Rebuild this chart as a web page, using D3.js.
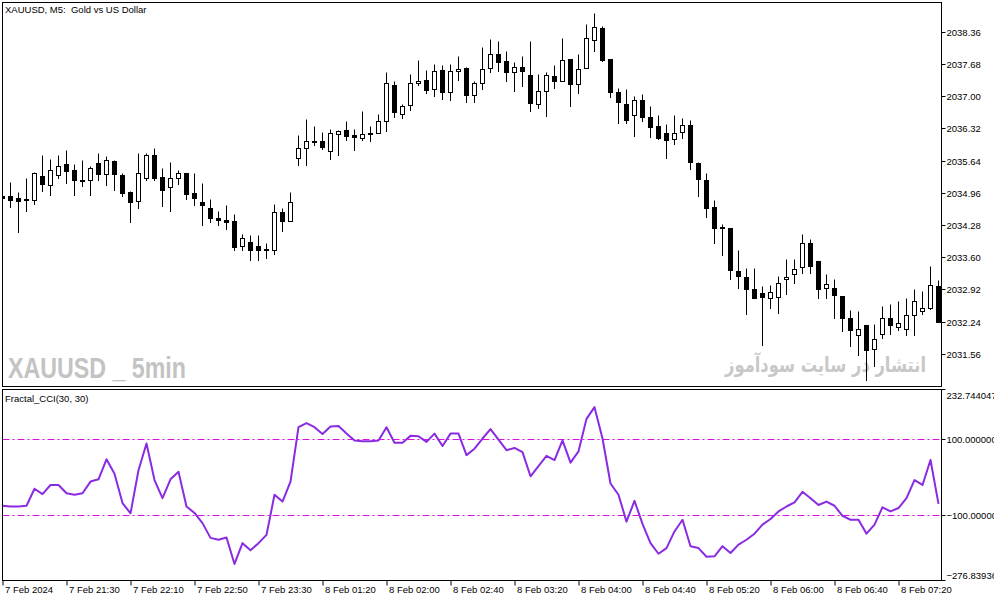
<!DOCTYPE html>
<html>
<head>
<meta charset="utf-8">
<script src="https://cdnjs.cloudflare.com/ajax/libs/d3/7.8.5/d3.min.js"></script>
<style>
  body { margin: 0; background: #fff; }
  svg { display: block; font-family: 'Liberation Sans', Arial, sans-serif; }
  .axis text { font-size: 9.5px; fill: #000; }
  .axis line { stroke: #000; }
  .axis path { display: none; }
</style>
</head>
<body>
<div id="chart"></div>
<script>
// XAUUSD M5, 7 Feb 20:50 .. 8 Feb 07:25
const opens = [
  2034.90, 2034.90, 2034.84, 2034.82, 2034.80, 2035.32, 2035.13, 2035.34, 2035.56, 2035.44,
  2035.24, 2035.23, 2035.59, 2035.36, 2035.64, 2035.34, 2034.98, 2034.79, 2035.27, 2035.76,
  2035.29, 2035.08, 2035.27, 2035.38, 2034.96, 2034.77, 2034.64, 2034.43, 2034.39, 2034.37,
  2033.83, 2033.92, 2033.84, 2033.78, 2033.76, 2034.55, 2034.37, 2035.69, 2035.90, 2036.06,
  2036.06, 2035.84, 2036.21, 2036.29, 2036.19, 2036.12, 2036.22, 2036.23, 2036.48, 2037.24,
  2036.63, 2036.82, 2037.28, 2037.35, 2037.15, 2037.56, 2037.09, 2037.53, 2037.60, 2037.02,
  2037.28, 2037.60, 2037.90, 2037.75, 2037.51, 2037.62, 2037.44, 2036.84, 2037.11, 2037.42,
  2037.32, 2037.79, 2037.26, 2037.60, 2038.19, 2038.45, 2037.79, 2037.08, 2036.84, 2036.60,
  2036.93, 2036.56, 2036.38, 2036.23, 2036.10, 2036.25, 2036.39, 2035.59, 2035.23, 2034.66,
  2034.24, 2034.22, 2033.31, 2033.19, 2032.93, 2032.85, 2032.74, 2032.76, 2033.15, 2033.25,
  2033.40, 2033.90, 2033.53, 2032.95, 2032.95, 2032.79, 2032.32, 2031.96, 2032.16, 2031.66,
  2031.98, 2032.32, 2032.13, 2032.09, 2032.37, 2032.47, 2032.53, 2033.00
]
const highs = [
  2034.93, 2035.18, 2034.97, 2035.27, 2035.39, 2035.75, 2035.68, 2035.76, 2035.87, 2035.56,
  2035.66, 2035.52, 2035.80, 2035.73, 2035.66, 2035.38, 2034.99, 2035.79, 2035.79, 2035.91,
  2035.48, 2035.61, 2035.45, 2035.38, 2035.37, 2035.17, 2034.82, 2034.58, 2034.70, 2034.52,
  2034.10, 2034.06, 2034.06, 2033.90, 2034.73, 2034.63, 2034.97, 2036.19, 2036.51, 2036.37,
  2036.25, 2036.30, 2036.28, 2036.47, 2036.30, 2036.68, 2036.38, 2036.63, 2037.51, 2037.33,
  2036.84, 2037.46, 2037.77, 2037.55, 2037.69, 2037.65, 2037.67, 2037.84, 2037.62, 2037.33,
  2038.03, 2038.20, 2038.17, 2037.96, 2037.73, 2037.84, 2038.17, 2037.46, 2037.52, 2037.65,
  2038.22, 2037.79, 2037.90, 2038.53, 2038.75, 2038.49, 2037.79, 2037.18, 2037.15, 2037.00,
  2037.05, 2036.80, 2036.61, 2036.42, 2036.61, 2036.53, 2036.49, 2035.60, 2035.37, 2034.80,
  2034.31, 2034.22, 2033.75, 2033.37, 2033.37, 2032.99, 2033.02, 2033.21, 2033.57, 2033.57,
  2034.08, 2033.99, 2033.53, 2033.25, 2033.15, 2032.79, 2032.49, 2032.47, 2032.16, 2032.18,
  2032.56, 2032.62, 2032.68, 2032.73, 2032.92, 2032.89, 2033.41, 2033.11
]
const lows = [
  2034.82, 2034.66, 2034.13, 2034.57, 2034.73, 2034.99, 2034.91, 2035.27, 2035.17, 2034.91,
  2035.10, 2034.91, 2035.22, 2035.12, 2035.01, 2034.89, 2034.34, 2034.64, 2035.24, 2035.24,
  2034.68, 2034.57, 2035.15, 2034.83, 2034.70, 2034.27, 2034.34, 2034.28, 2034.20, 2033.75,
  2033.75, 2033.54, 2033.54, 2033.58, 2033.67, 2034.15, 2034.37, 2035.55, 2035.55, 2035.96,
  2035.89, 2035.68, 2035.76, 2036.07, 2035.87, 2036.08, 2036.05, 2036.22, 2036.26, 2036.56,
  2036.53, 2036.71, 2037.23, 2037.06, 2037.00, 2036.95, 2036.92, 2037.35, 2036.87, 2036.87,
  2037.16, 2037.51, 2037.53, 2037.32, 2037.10, 2037.21, 2036.68, 2036.75, 2036.58, 2037.17,
  2037.32, 2036.79, 2037.06, 2037.59, 2037.95, 2037.74, 2036.98, 2036.43, 2036.43, 2036.16,
  2036.47, 2036.13, 2036.09, 2035.69, 2035.99, 2036.12, 2035.46, 2034.89, 2034.45, 2033.90,
  2033.64, 2033.13, 2032.94, 2032.40, 2032.74, 2031.74, 2032.53, 2032.42, 2032.82, 2033.06,
  2033.27, 2033.27, 2032.74, 2032.74, 2032.32, 2032.05, 2031.72, 2031.54, 2031.01, 2031.30,
  2031.89, 2031.98, 2032.07, 2031.96, 2031.96, 2032.40, 2032.51, 2032.23
]
const closes = [
  2034.85, 2034.80, 2034.79, 2034.80, 2035.37, 2035.15, 2035.44, 2035.53, 2035.41, 2035.22,
  2035.23, 2035.48, 2035.36, 2035.65, 2035.36, 2034.96, 2034.77, 2035.38, 2035.76, 2035.27,
  2035.01, 2035.27, 2035.38, 2034.93, 2034.85, 2034.70, 2034.42, 2034.38, 2034.34, 2033.82,
  2034.00, 2033.76, 2033.76, 2033.76, 2034.55, 2034.37, 2034.77, 2035.91, 2036.06, 2036.03,
  2035.92, 2036.23, 2036.27, 2036.16, 2036.14, 2036.20, 2036.23, 2036.48, 2037.28, 2036.66,
  2036.80, 2037.28, 2037.33, 2037.13, 2037.54, 2037.09, 2037.54, 2037.58, 2037.02, 2037.28,
  2037.58, 2037.90, 2037.72, 2037.51, 2037.62, 2037.53, 2036.85, 2037.12, 2037.44, 2037.32,
  2037.77, 2037.25, 2037.58, 2038.22, 2038.47, 2037.77, 2037.09, 2036.87, 2036.49, 2036.93,
  2036.56, 2036.34, 2036.11, 2036.08, 2036.23, 2036.39, 2035.61, 2035.25, 2034.64, 2034.21,
  2034.21, 2033.32, 2033.20, 2032.93, 2032.74, 2032.76, 2032.87, 2033.06, 2033.19, 2033.36,
  2033.90, 2033.41, 2032.93, 2033.04, 2032.80, 2032.32, 2032.06, 2032.09, 2031.63, 2031.87,
  2032.32, 2032.16, 2032.20, 2032.37, 2032.68, 2032.53, 2033.02, 2032.23
]
const cci = [
  -75, -77, -77, -75, -30, -44, -20, -20, -42, -46,
  -42, -11, -5, 48, 10, -68, -95, 19, 90, -7,
  -55, -5, 15, -77, -94, -121, -160, -165, -159, -229,
  -174, -193, -174, -152, -46, -64, -11, 133, 144, 133,
  115, 135, 136, 116, 98, 96, 96, 98, 133, 92,
  92, 110, 109, 94, 116, 83, 116, 116, 59, 76,
  103, 128, 100, 72, 78, 67, 3, 30, 57, 46,
  98, 39, 69, 155, 186, 103, -16, -46, -117, -62,
  -123, -174, -202, -187, -143, -112, -182, -187, -210, -209,
  -182, -200, -178, -165, -149, -125, -110, -90, -77, -66,
  -38, -55, -73, -64, -75, -102, -112, -112, -149, -125,
  -79, -90, -81, -55, -7, -20, 46, -70
]
const priceTicks = [2038.36, 2037.68, 2037.00, 2036.32, 2035.64, 2034.96, 2034.28, 2033.60, 2032.92, 2032.24, 2031.56]
const cciTicks = [232.744047, 100, -100, -276.839364]
const cciLevels = [100, -100]
const timeLabels = [
  '7 Feb 2024', '7 Feb 21:30', '7 Feb 22:10', '7 Feb 22:50', '7 Feb 23:30',
  '8 Feb 01:20', '8 Feb 02:00', '8 Feb 02:40', '8 Feb 03:20', '8 Feb 04:00',
  '8 Feb 04:40', '8 Feb 05:20', '8 Feb 06:00', '8 Feb 06:40', '8 Feb 07:20'
]
const labelEvery = 8

const width = 994
const height = 603
const left = 2.5
const right = 941.5
const mainTop = 2.5
const mainBottom = 386.5
const subTop = 389.5
const subBottom = 580.5

const snap = v => Math.round(v - 0.5) + 0.5

function drawChart(el) {
  const svg = el.append('svg').attr('width', width).attr('height', height)
  svg.append('rect').attr('width', width).attr('height', height).attr('fill', '#fff')

  const n = opens.length
  const x = d3.scaleLinear().domain([0, n - 1]).range([2.5, 2.5 + 8 * (n - 1)])
  const y = d3.scaleLinear().domain([2031.56, 2038.36]).range([354.3, 32.3])
  const yc = d3.scaleLinear().domain([cciTicks[3], cciTicks[0]]).range([582, 389.5])

  const defs = svg.append('defs')
  defs.append('clipPath').attr('id', 'clip-main')
    .append('rect').attr('x', left).attr('y', mainTop).attr('width', right - left).attr('height', mainBottom - mainTop)
  defs.append('clipPath').attr('id', 'clip-sub')
    .append('rect').attr('x', left).attr('y', subTop).attr('width', right - left).attr('height', subBottom - subTop)

  // watermarks sit under the candles
  svg.append('text')
    .attr('x', 8).attr('y', 378)
    .attr('textLength', 178).attr('lengthAdjust', 'spacingAndGlyphs')
    .style('font-family', "'Liberation Sans Narrow', 'Arial Narrow', 'Liberation Sans', sans-serif")
    .style('font-weight', 'bold').style('font-size', '30px')
    .attr('fill', '#c3c3c3')
    .text('XAUUSD _ 5min')

  svg.append('text')
    .attr('x', 825.5).attr('y', 372)
    .attr('text-anchor', 'middle')
    .attr('textLength', 201).attr('lengthAdjust', 'spacingAndGlyphs')
    .style('font-family', "'DejaVu Sans', sans-serif")
    .style('font-weight', 'bold').style('font-size', '21px')
    .attr('fill', '#c8c8c8')
    .text('انتشار در سایت سودآموز')

  const candles = d3.range(n).map(i => ({ i, o: opens[i], h: highs[i], l: lows[i], c: closes[i] }))

  const main = svg.append('g').attr('clip-path', 'url(#clip-main)')
  main.selectAll('.wick').data(candles).join('line')
    .attr('class', 'wick')
    .attr('x1', d => x(d.i)).attr('x2', d => x(d.i))
    .attr('y1', d => snap(y(d.h))).attr('y2', d => snap(y(d.l)) + 0.5)
    .attr('stroke', '#000').attr('stroke-width', 1)

  main.selectAll('.body').data(candles).join('rect')
    .attr('class', 'body')
    .attr('x', d => x(d.i) - 2)
    .attr('width', 4)
    .attr('y', d => snap(y(Math.max(d.o, d.c))))
    .attr('height', d => Math.max(snap(y(Math.min(d.o, d.c))) - snap(y(Math.max(d.o, d.c))), 1))
    .attr('fill', d => d.c > d.o ? '#fff' : '#000')
    .attr('stroke', '#000').attr('stroke-width', 1)

  // indicator pane
  const sub = svg.append('g').attr('clip-path', 'url(#clip-sub)')
  sub.selectAll('.level').data(cciLevels).join('line')
    .attr('class', 'level')
    .attr('x1', left).attr('x2', right)
    .attr('y1', d => snap(yc(d))).attr('y2', d => snap(yc(d)))
    .attr('stroke', '#dd10dd').attr('stroke-width', 1)
    .attr('stroke-dasharray', '7,3,2,3')

  const line = d3.line().x((d, i) => x(i)).y(d => yc(d))
  sub.append('path')
    .datum(cci)
    .attr('d', line)
    .attr('fill', 'none')
    .attr('stroke', '#8a2be2')
    .attr('stroke-width', 2)
    .attr('stroke-linejoin', 'round')

  // frames
  svg.append('rect')
    .attr('x', left).attr('y', mainTop).attr('width', right - left).attr('height', mainBottom - mainTop)
    .attr('fill', 'none').attr('stroke', '#000')
  svg.append('rect')
    .attr('x', left).attr('y', subTop).attr('width', right - left).attr('height', subBottom - subTop)
    .attr('fill', 'none').attr('stroke', '#000')

  svg.append('text')
    .attr('x', 5).attr('y', 13)
    .style('font-size', '9.5px').style('white-space', 'pre')
    .text('XAUUSD, M5:  Gold vs US Dollar')

  svg.append('text')
    .attr('x', 5).attr('y', 402)
    .style('font-size', '9.5px')
    .text('Fractal_CCI(30, 30)')

  // axes
  const priceAxis = d3.axisRight(y)
    .tickValues(priceTicks)
    .tickSize(4).tickPadding(1)
    .tickFormat(d3.format('.2f'))
  svg.append('g')
    .attr('class', 'axis')
    .attr('transform', 'translate(' + right + ',0)')
    .call(priceAxis)
    .selectAll('.tick')
    .attr('transform', d => 'translate(0,' + snap(y(d)) + ')')

  const cciAxis = d3.axisRight(yc)
    .tickValues(cciTicks)
    .tickSize(4).tickPadding(1)
    .tickFormat(d3.format('.6f'))
  const ca = svg.append('g')
    .attr('class', 'axis')
    .attr('transform', 'translate(' + right + ',0)')
    .call(cciAxis)
  ca.selectAll('.tick')
    .attr('transform', (d, i) => 'translate(0,' + (i === 0 ? subTop : i === cciTicks.length - 1 ? subBottom : snap(yc(d))) + ')')
  ca.selectAll('.tick text')
    .attr('dy', (d, i) => i === 0 ? '1.05em' : i === cciTicks.length - 1 ? '-0.15em' : '0.32em')

  const timeAxis = d3.axisBottom(x)
    .tickValues(d3.range(0, n, labelEvery))
    .tickSize(5).tickPadding(1)
    .tickFormat(i => timeLabels[i / labelEvery])
  svg.append('g')
    .attr('class', 'axis')
    .attr('transform', 'translate(0,' + subBottom + ')')
    .call(timeAxis)
    .selectAll('.tick text')
    .attr('text-anchor', 'start')
    .attr('x', 2)
}

drawChart(d3.select('#chart'))
</script>
</body>
</html>
